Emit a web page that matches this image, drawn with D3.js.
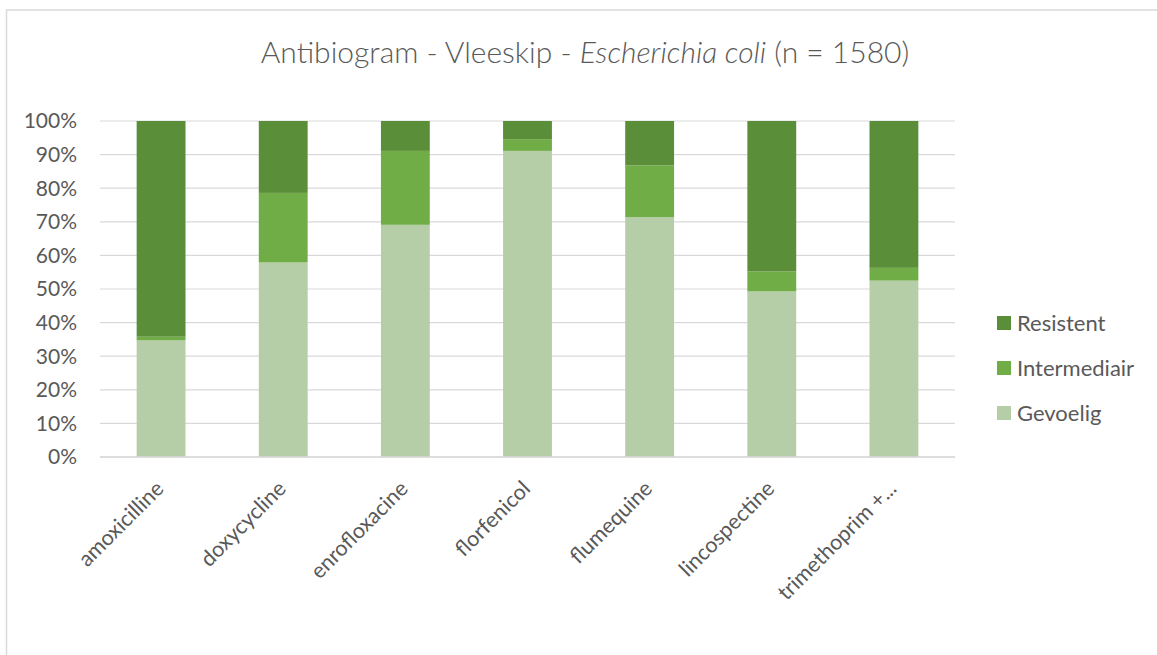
<!DOCTYPE html>
<html>
<head>
<meta charset="utf-8">
<script src="https://cdn.jsdelivr.net/npm/d3@7"></script>
<style>
  body { margin: 0; background: #fff; }
  text { font-family: Lato, "Open Sans", sans-serif; fill: #595959; }
</style>
</head>
<body>
<div id="chart"></div>
<script>
const categories = ["amoxicilline", "doxycycline", "enrofloxacine", "florfenicol",
                    "flumequine", "lincospectine", "trimethoprim +..."];
const series = ["Gevoelig", "Intermediair", "Resistent"];
const gevoelig =     [34.7, 57.9, 69.1, 91.1, 71.4, 49.3, 52.5];
const intermediair = [ 1.1, 20.7, 22.0,  3.5, 15.4,  5.9,  3.8];
const resistent =    [64.2, 21.4,  8.9,  5.4, 13.2, 44.8, 43.7];
const yTicks = [0, 10, 20, 30, 40, 50, 60, 70, 80, 90, 100];

const colors = { "Gevoelig": "#b5cea8", "Intermediair": "#71ad47", "Resistent": "#5b8e39" };

const width = 1157, height = 655;
const margin = { left: 100, right: 202, top: 121, bottom: 198 };

const svg = d3.select("#chart").append("svg")
    .attr("width", width)
    .attr("height", height);

// chart frame (right and bottom edges are cut off in the original)
svg.append("rect")
    .attr("x", 6.5).attr("y", 10)
    .attr("width", width + 10).attr("height", height + 10)
    .attr("fill", "none")
    .attr("stroke", "#d9d9d9")
    .attr("stroke-width", 1.5);

const rows = categories.map(function(c, i) {
  return { cat: c, Gevoelig: gevoelig[i], Intermediair: intermediair[i], Resistent: resistent[i] };
});

const x = d3.scaleBand()
    .domain(categories)
    .range([margin.left, width - margin.right])
    .paddingInner(0.6)
    .paddingOuter(0.3);

const y = d3.scaleLinear()
    .domain([0, 100])
    .range([height - margin.bottom, margin.top]);

// gridlines
svg.append("g")
  .selectAll("line")
  .data(yTicks)
  .join("line")
    .attr("x1", margin.left)
    .attr("x2", width - margin.right)
    .attr("y1", d => y(d))
    .attr("y2", d => y(d))
    .attr("stroke", "#d9d9d9")
    .attr("stroke-width", 1.2);

// y labels
svg.append("g")
  .selectAll("text")
  .data(yTicks)
  .join("text")
    .attr("x", 77)
    .attr("y", d => y(d))
    .attr("dy", "0.35em")
    .attr("text-anchor", "end")
    .style("font-size", "21px")
    .text(d => d + "%");

// stacked bars
const stack = d3.stack().keys(series);
const layers = stack(rows);

svg.append("g")
  .selectAll("g")
  .data(layers)
  .join("g")
    .attr("fill", d => colors[d.key])
  .selectAll("rect")
  .data(d => d)
  .join("rect")
    .attr("x", d => x(d.data.cat))
    .attr("width", x.bandwidth())
    .attr("y", d => y(d[1]))
    .attr("height", d => y(d[0]) - y(d[1]));

// bottom axis line
svg.append("line")
    .attr("x1", margin.left)
    .attr("x2", width - margin.right)
    .attr("y1", y(0))
    .attr("y2", y(0))
    .attr("stroke", "#d9d9d9")
    .attr("stroke-width", 1.5);

// category labels
svg.append("g")
  .selectAll("text")
  .data(categories)
  .join("text")
    .attr("transform", d => "translate(" + (x(d) + x.bandwidth() / 2 + 4) + "," + (y(0) + 33) + ") rotate(-45)")
    .attr("text-anchor", "end")
    .style("font-size", "21.5px")
    .text(d => d);

// title
const title = svg.append("text")
    .attr("x", 585)
    .attr("y", 63)
    .attr("text-anchor", "middle")
    .style("font-size", "30px")
    .style("font-weight", 300);
title.append("tspan").text("Antibiogram - Vleeskip - ");
title.append("tspan").style("font-style", "italic").text("Escherichia coli");
title.append("tspan").text(" (n = 1580)");

// legend
const legendKeys = ["Resistent", "Intermediair", "Gevoelig"];
const legend = svg.append("g")
  .selectAll("g")
  .data(legendKeys)
  .join("g")
    .attr("transform", (d, i) => "translate(997," + (323 + i * 45) + ")");

legend.append("rect")
    .attr("x", 0).attr("y", -7)
    .attr("width", 14).attr("height", 14)
    .attr("fill", d => colors[d]);

legend.append("text")
    .attr("x", 20)
    .attr("dy", "0.35em")
    .style("font-size", "22px")
    .text(d => d);
</script>
</body>
</html>
